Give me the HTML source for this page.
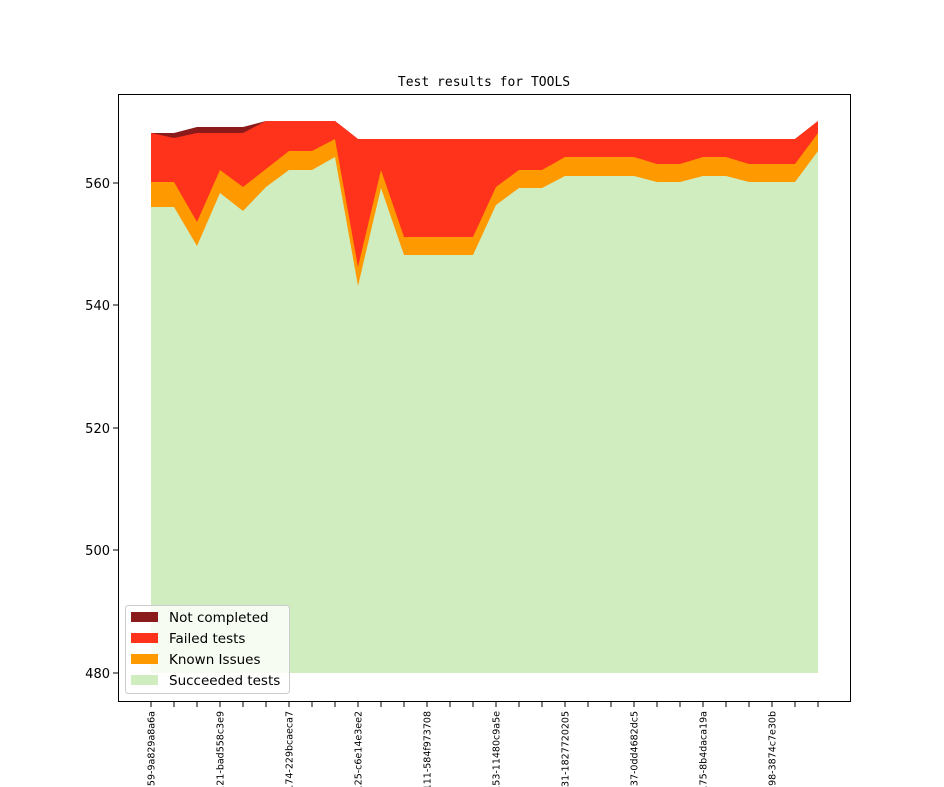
<!DOCTYPE html>
<html><head><meta charset="utf-8"><style>html,body{margin:0;padding:0;background:#fff;width:944px;height:787px;overflow:hidden}svg{display:block;overflow:hidden}</style></head><body>
<svg width="944" height="787" viewBox="0 0 944 787" xmlns="http://www.w3.org/2000/svg">
<rect width="944" height="787" fill="#fff"/>
<text x="484" y="86" text-anchor="middle" font-family="DejaVu Sans Mono, monospace" font-size="13">Test results for TOOLS</text>
<polygon fill="#8b1a1a" points="151,133 174,133 197,127 220,127 243,127 266,121 289,121 312,121 335,121 358,139 795,139 818,121 818,673 151,673"/>
<polygon fill="#ff331c" points="151,133 174,138 197,133 220,133 243,133 266,121 289,121 312,121 335,121 358,139 795,139 818,121 818,673 151,673"/>
<polygon fill="#ff9900" points="151,182 174,182 197,222 220,170 243,187 266,169 289,151 312,151 335,139 358,267 381,170 404,237 427,237 450,237 473,237 496,187 519,170 542,170 565,157 588,157 611,157 634,157 657,164 680,164 703,157 726,157 749,164 772,164 795,164 818,133 818,673 151,673"/>
<polygon fill="#cfedbf" points="151,207 174,207 197,246 220,193 243,211 266,187 289,170 312,170 335,157 358,286 381,188 404,255 427,255 450,255 473,255 496,205 519,188 542,188 565,176 588,176 611,176 634,176 657,182 680,182 703,176 726,176 749,182 772,182 795,182 818,151 818,673 151,673"/>
<rect x="118.5" y="94.5" width="732" height="607" fill="none" stroke="#000" stroke-width="1"/>
<g font-family="DejaVu Sans, Liberation Sans, sans-serif" font-size="13" text-anchor="end">
<line x1="113" x2="118" y1="183" y2="183" stroke="#000"/><text x="110" y="188">560</text>
<line x1="113" x2="118" y1="305" y2="305" stroke="#000"/><text x="110" y="310">540</text>
<line x1="113" x2="118" y1="428" y2="428" stroke="#000"/><text x="110" y="433">520</text>
<line x1="113" x2="118" y1="550" y2="550" stroke="#000"/><text x="110" y="555">500</text>
<line x1="113" x2="118" y1="673" y2="673" stroke="#000"/><text x="110" y="678">480</text>
</g>
<g stroke="#000">
<path d="M151 702v5M174 702v5M197 702v5M220 702v5M243 702v5M266 702v5M289 702v5M312 702v5M335 702v5M358 702v5M381 702v5M404 702v5M427 702v5M450 702v5M473 702v5M496 702v5M519 702v5M542 702v5M565 702v5M588 702v5M611 702v5M634 702v5M657 702v5M680 702v5M703 702v5M726 702v5M749 702v5M772 702v5M795 702v5M818 702v5"/>
</g>
<g font-family="DejaVu Sans, Liberation Sans, sans-serif" font-size="9.5" text-anchor="end">
<text transform="translate(154.5,711) rotate(-90)">0159-9a829a8a6a</text>
<text transform="translate(223.5,711) rotate(-90)">0121-bad558c3e9</text>
<text transform="translate(292.5,711) rotate(-90)">0174-229bcaeca7</text>
<text transform="translate(361.5,711) rotate(-90)">0125-c6e14e3ee2</text>
<text transform="translate(430.5,711) rotate(-90)">0111-584f973708</text>
<text transform="translate(499.5,711) rotate(-90)">0153-11480c9a5e</text>
<text transform="translate(568.5,711) rotate(-90)">0131-1827720205</text>
<text transform="translate(637.5,711) rotate(-90)">0137-0dd4682dc5</text>
<text transform="translate(706.5,711) rotate(-90)">0175-8b4daca19a</text>
<text transform="translate(775.5,711) rotate(-90)">0198-3874c7e30b</text>
</g>
<rect x="125.5" y="605.5" width="164" height="88" rx="3" fill="#fff" fill-opacity="0.8" stroke="#ccc"/>
<rect x="131" y="612" width="27" height="10" fill="#8b1a1a"/>
<rect x="131" y="633" width="27" height="10" fill="#ff331c"/>
<rect x="131" y="654" width="27" height="10" fill="#ff9900"/>
<rect x="131" y="675" width="27" height="10" fill="#cfedbf"/>
<g font-family="DejaVu Sans, Liberation Sans, sans-serif" font-size="13.5">
<text x="169" y="622">Not completed</text>
<text x="169" y="643">Failed tests</text>
<text x="169" y="664">Known Issues</text>
<text x="169" y="685">Succeeded tests</text>
</g>
</svg>
</body></html>
